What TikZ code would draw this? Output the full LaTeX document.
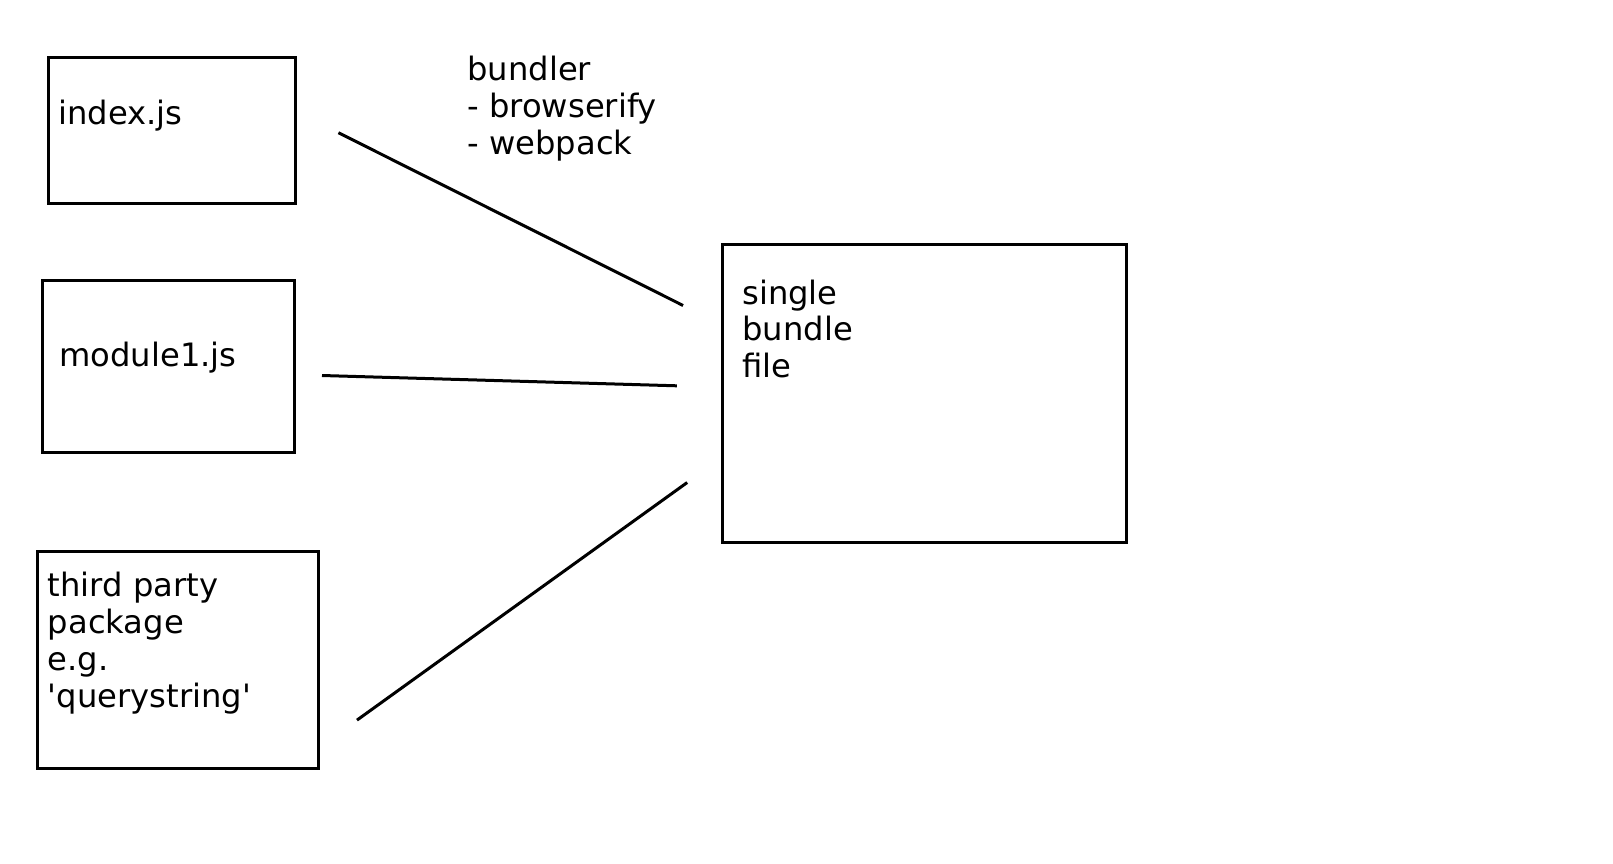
\documentclass[tikz,border=0pt]{standalone}
\usepackage{fontspec}
\setmainfont{DejaVu Sans}
\usepackage{tikz}

\begin{document}
\begin{tikzpicture}[
			x=0.5pt, y=-0.5pt,
			box/.style = {draw, line width=1.5pt, inner sep=0pt},
			txt/.style = {anchor=base west, align=left, inner sep=0pt,
				font=\fontsize{16.1}{18.35}\selectfont},
			wire/.style = {line width=1.5pt}
		]
		\useasboundingbox (0,0) rectangle (1613,863);
		% Source boxes.
		\node[box, minimum width=123.7pt, minimum height=73pt] (idx) at (172,130.3) {};
		\node[box, minimum width=126pt, minimum height=86pt] (mod) at (168.3,366.7) {};
		\node[box, minimum width=140.5pt, minimum height=108.3pt] (pkg) at (177.8,660) {};
		% Output box.
		\node[box, minimum width=202.2pt, minimum height=149.2pt] (bndl) at (924.5,393.2) {};
		% Texts (placed at the baseline of their last line).
		\node[txt] (idxt) at (58,124.5) {index.js};
		\node[txt] (modt) at (59,366) {module1.js};
		\node[txt] (pkgt) at (47.5,707) {third party\\package\\e.g.\\\textquotesingle querystring\textquotesingle};
		\node[txt] (bndlt) at (742,377.5) {single\\bundle\\file};
		\node[txt] (tool) at (467,154) {bundler\\- browserify\\- webpack};
		% Line ends.
		\coordinate (idxe) at (338.4,132.7);
		\coordinate (bndla) at (683.1,305.5);
		\coordinate (mode) at (322,375.5);
		\coordinate (bndlb) at (676.9,385.8);
		\coordinate (pkge) at (357,720.1);
		\coordinate (bndlc) at (687.2,482.5);
		
		\draw[wire] (idxe) to (bndla);
		\draw[wire] (mode) to (bndlb);
		\draw[wire] (pkge) to (bndlc);
	\end{tikzpicture}
\end{document}
